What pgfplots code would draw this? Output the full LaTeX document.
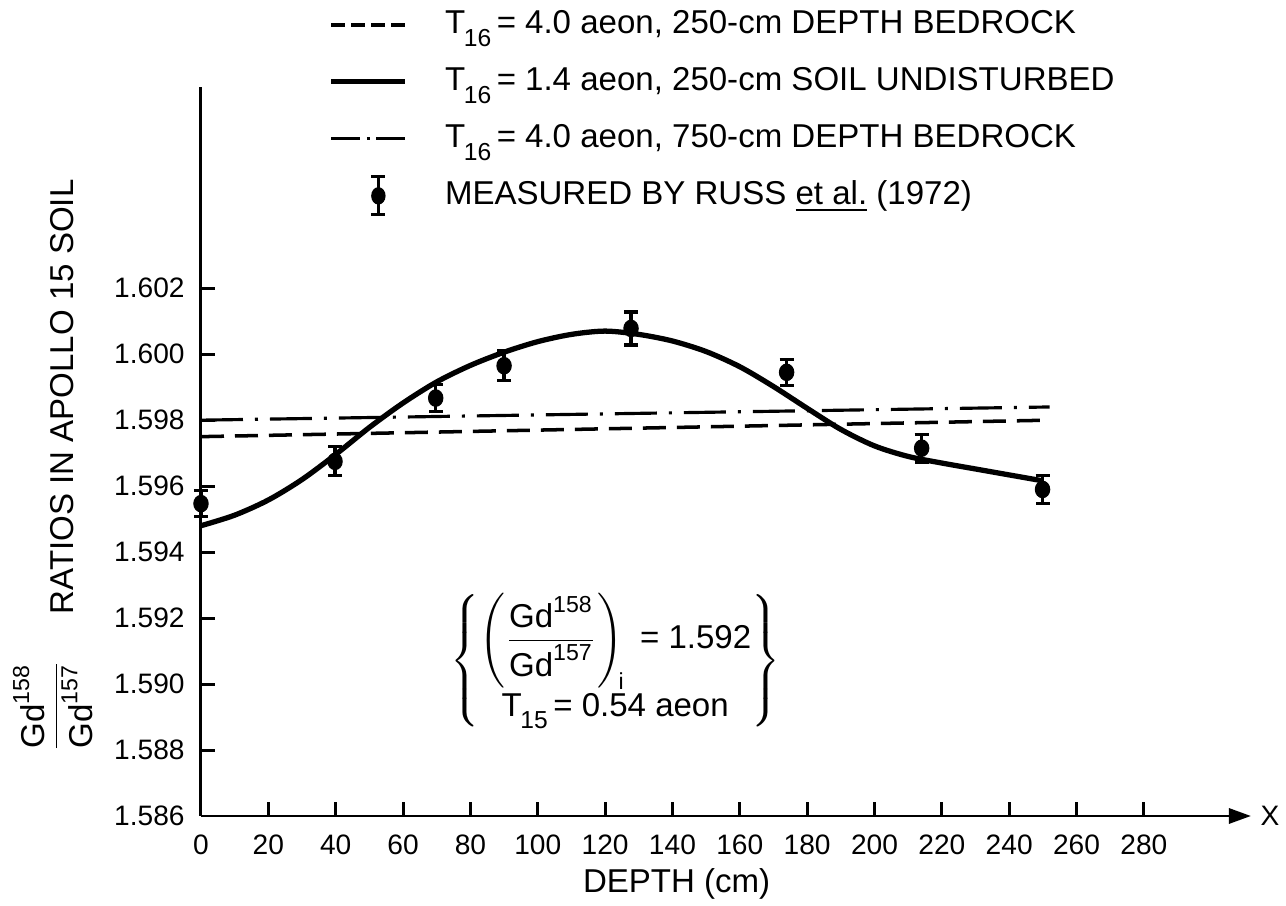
\documentclass[border=0pt]{standalone}
\usepackage{fontspec}
\setmainfont{Liberation Sans}
\usepackage{amsmath}
\usepackage{pgfplots}
\pgfplotsset{compat=1.18}
\usetikzlibrary{arrows.meta}

% T with a low subscript, as in the hand lettering
\newcommand{\Tsub}[1]{T\kern-0.04em\raisebox{-0.7ex}{\fontsize{7}{8}\selectfont #1}}
\newcommand{\lbl}{\fontsize{9.4}{11}\selectfont}

\begin{document}
\begin{tikzpicture}
  \path[use as bounding box] (-2.01,-0.90) rectangle (10.85,8.16);
  \begin{axis}[
      scale only axis,
      width=10.50cm, height=7.29cm,
      at={(0,0)}, anchor=south west,
      xmin=0, xmax=311.8,
      ymin=1.586, ymax=1.6081,
      axis x line=bottom, axis y line=left,
      x axis line style={-{Triangle[length=0.22cm,width=0.15cm]}, line width=0.85pt},
      y axis line style={-, line width=0.85pt},
      xtick={0,20,...,280},
      ytick={1.586,1.588,1.590,1.592,1.594,1.596,1.598,1.600,1.602},
      yticklabels={1.586,1.588,1.590,1.592,1.594,1.596,1.598,1.600,1.602},
      minor tick num=0,
      tick align=inside,
      major tick length=0.14cm,
      tick style={line width=0.85pt, black},
      /pgf/number format/assume math mode=true,
      tick label style={font=\fontsize{8}{9}\selectfont},
      x tick label style={yshift=-0.06cm},
      y tick label style={xshift=-0.04cm},
      clip=false,
      legend style={at={(axis description cs:0.121,1.115)}, anchor=north west,
        draw=none, fill=none, inner sep=0pt, font=\lbl,
        row sep=0.15cm, column sep=0.37cm,
        nodes={inner xsep=0pt, inner ysep=0pt, text height=0.3cm, text depth=0.12cm}},
      legend cell align=left,
      legend image code/.code={\draw[#1] (0cm,0cm) -- (0.74cm,0cm);}
    ]
    % T16 = 4.0 aeon, 250-cm bedrock
    \addplot[black, line width=1pt, dash pattern=on 0.23cm off 0.11cm,
        legend image code/.code={
          \draw[line width=1pt, dash pattern=on 0.14cm off 0.06cm] (0cm,0cm) -- (0.74cm,0cm);}]
      coordinates {(0,1.5975) (252,1.5980)};
    \addlegendentry{\Tsub{16}\,= 4.0 aeon, 250-cm DEPTH BEDROCK}
    % T16 = 1.4 aeon, undisturbed soil
    \addplot[black, line width=1.5pt, smooth, tension=0.5] coordinates {
      (0,1.5948) (10,1.59512) (20,1.59558) (30,1.5962) (40,1.59696)
      (50,1.59778) (60,1.59852) (70,1.59916) (80,1.59966) (90,1.60006)
      (100,1.60038) (110,1.6006) (120,1.6007) (130,1.6006) (140,1.6004)
      (150,1.60008) (160,1.59962) (170,1.59902) (180,1.59836) (190,1.59772)
      (200,1.59722) (210,1.5969) (220,1.5967) (230,1.59652) (240,1.59634)
      (250,1.59616)
    };
    \addlegendentry{\Tsub{16}\,= 1.4 aeon, 250-cm SOIL UNDISTURBED}
    % T16 = 4.0 aeon, 750-cm bedrock
    \addplot[black, line width=0.9pt,
        dash pattern=on 0.42cm off 0.12cm on 0.03cm off 0.12cm,
        legend image code/.code={
          \draw[line width=0.9pt] (0cm,0cm) -- (0.29cm,0cm);
          \draw[line width=0.9pt] (0.355cm,0cm) -- (0.385cm,0cm);
          \draw[line width=0.9pt] (0.45cm,0cm) -- (0.74cm,0cm);}]
      coordinates {(0,1.5980) (252,1.59840)};
    \addlegendentry{\Tsub{16}\,= 4.0 aeon, 750-cm DEPTH BEDROCK}
    % Russ et al. (1972)
    \addplot[black, only marks, mark=*, mark size=2pt, mark options={yscale=1.15},
        error bars/.cd, y dir=both, y explicit,
        error bar style={line width=0.9pt},
        error mark options={rotate=90, mark size=0.07cm, line width=0.9pt},
        /pgfplots/legend image code/.code={
          \draw[line width=0.9pt] (0.47cm,-0.19cm) -- (0.47cm,0.19cm);
          \draw[line width=0.9pt] (0.40cm,0.19cm) -- (0.54cm,0.19cm);
          \draw[line width=0.9pt] (0.40cm,-0.19cm) -- (0.54cm,-0.19cm);
          \fill (0.47cm,0cm) ellipse (0.065cm and 0.08cm);}]
      table[x=x, y=y, y error=e] {
        x      y        e
        0      1.59547  0.00040
        39.8   1.59675  0.00044
        69.7   1.59867  0.00040
        90     1.59965  0.00045
        127.7  1.60078  0.00050
        173.9  1.59945  0.00040
        214    1.59715  0.00042
        249.9  1.59590  0.00042
      };
    \addlegendentry{MEASURED BY RUSS \underline{et al.} (1972)}

    \node[font=\lbl, inner sep=0pt] at (axis cs:123,1.5907) {$\left\{\!\begin{array}{@{\,}c@{\,}}
        \left(\dfrac{\text{Gd}^{\text{158}}}{\text{Gd}^{\text{157}}}\right)_{\!\text{i}}\text{ = 1.592}\\[3pt]
        \text{\Tsub{15}\,= 0.54 aeon}\end{array}\!\right\}$};
    \node[rotate=90, font=\lbl] at (axis description cs:-0.132,0.575)
      {RATIOS IN APOLLO 15 SOIL};
    \node[rotate=90, font=\lbl] at (axis description cs:-0.141,0.151)
      {$\dfrac{\text{Gd}^{\text{158}}}{\text{Gd}^{\text{157}}}$};
    \node[font=\lbl] at (axis description cs:0.453,-0.093) {DEPTH (cm)};
    \node[font=\fontsize{8}{9}\selectfont, xshift=0.19cm]
      at (axis description cs:1,0) {X};
  \end{axis}
\end{tikzpicture}
\end{document}
